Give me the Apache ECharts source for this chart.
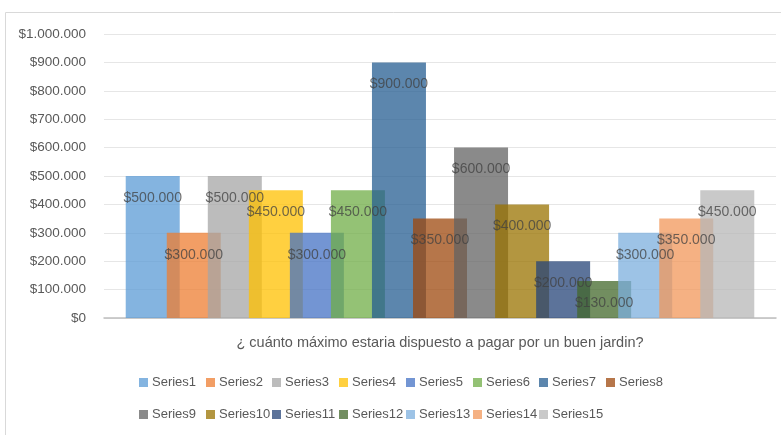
<!DOCTYPE html>
<html>
<head>
<meta charset="utf-8">
<script src="https://cdn.jsdelivr.net/npm/echarts@6/dist/echarts.min.js"></script>
<style>
html,body{margin:0;padding:0;background:#fff;}
#c{width:781px;height:435px;}
</style>
</head>
<body>
<div id="c"></div>
<script>
var category = ['¿ cuánto máximo estaria dispuesto a pagar por un buen jardin?'];
var seriesNames = ['Series1','Series2','Series3','Series4','Series5','Series6','Series7','Series8','Series9','Series10','Series11','Series12','Series13','Series14','Series15'];
var values = [500000, 300000, 500000, 450000, 300000, 450000, 900000, 350000, 600000, 400000, 200000, 130000, 300000, 350000, 450000];
var palette = ['#5B9BD5','#ED7D31','#A5A5A5','#FFC000','#4472C4','#70AD47','#255E91','#9E480E','#636363','#997300','#264478','#43682B','#7CAFDD','#F1975A','#B7B7B7'];

function money(v){
  var s = String(Math.round(v));
  return '$' + s.replace(/\B(?=(\d{3})+(?!\d))/g, '.');
}

var chart = echarts.init(document.getElementById('c'), null, {renderer:'canvas'});
var font = 'Liberation Sans, Arial, sans-serif';

var series = seriesNames.map(function(name, i){
  return {
    name: name,
    type: 'bar',
    data: [values[i]],
    barWidth: 54,
    barGap: '-24%',
    itemStyle: {color: palette[i], opacity: 0.75},
    label: {
      show: true,
      position: 'insideTop',
      distance: 15,
      color: '#404040',
      fontSize: 14,
      fontFamily: font,
      formatter: function(p){ return money(p.value); }
    },
    emphasis: {disabled: true}
  };
});

// legend laid out as an 8-column grid, like the original
var legends = seriesNames.map(function(name, i){
  var col = i % 8, row = Math.floor(i / 8);
  return {
    data: [name],
    left: Math.round(139 + col * 66.7),
    top: 376 + row * 32,
    padding: 0,
    itemWidth: 9, itemHeight: 9,
    icon: 'rect',
    textStyle: {color:'#595959', fontSize:13, fontFamily:font, padding:[0,0,0,-1]},
    selectedMode: false
  };
});

chart.setOption({
  animation: false,
  color: palette,
  graphic: [{
    type: 'rect',
    shape: {x: 5.5, y: 12.5, width: 800, height: 450},
    style: {fill: 'none', stroke: '#d9d9d9', lineWidth: 1},
    silent: true
  }],
  grid: {left: 104, right: 5, top: 34, bottom: 117, containLabel: false},
  legend: legends,
  xAxis: {
    type: 'category',
    data: category,
    axisLine: {lineStyle: {color: '#bfbfbf', width: 1.5}},
    axisTick: {show: false},
    axisLabel: {color:'#595959', fontSize:14.5, fontFamily:font, margin: 17}
  },
  yAxis: {
    type: 'value',
    min: 0, max: 1000000, interval: 100000,
    axisLine: {show: false},
    axisTick: {show: false},
    splitLine: {lineStyle: {color: '#e6e6e6'}},
    axisLabel: {color:'#595959', fontSize:13.5, fontFamily:font, margin: 18, formatter: money}
  },
  series: series
});
</script>
</body>
</html>
